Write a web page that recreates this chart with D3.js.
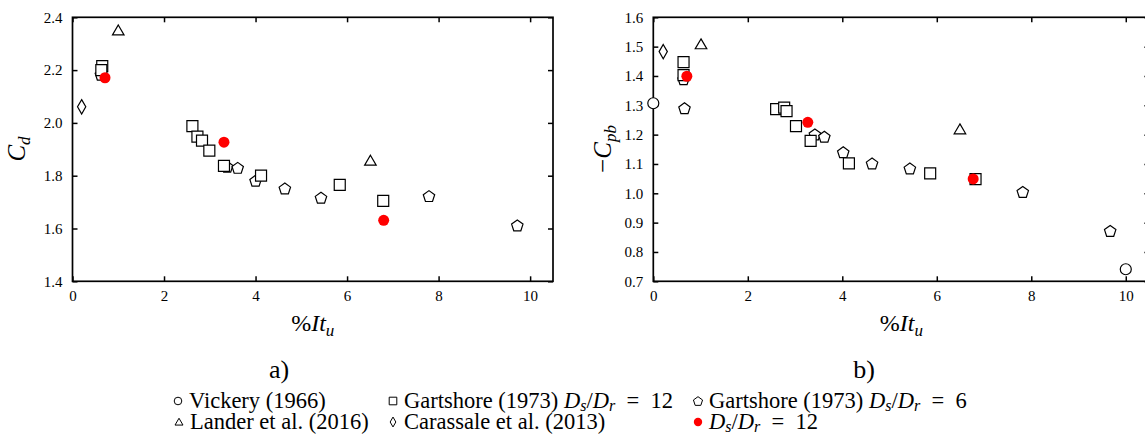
<!DOCTYPE html>
<html>
<head>
<meta charset="utf-8">
<script src="https://d3js.org/d3.v7.min.js"></script>
<style>
  body { margin: 0; background: #fff; }
  text { font-family: "Liberation Serif", "Times New Roman", serif; fill: #000; }
</style>
</head>
<body>
<svg width="1145" height="435"></svg>
<script>
// tick values
const xTicks = [0, 2, 4, 6, 8, 10];
const cdTicks = [1.4, 1.6, 1.8, 2.0, 2.2, 2.4];
const cpbTicks = [0.7, 0.8, 0.9, 1.0, 1.1, 1.2, 1.3, 1.4, 1.5, 1.6];

// drag coefficient Cd vs %It_u
const cdGart6 = [[0.62, 2.183], [3.38, 1.834], [3.61, 1.830], [4.0, 1.781], [4.64, 1.752], [5.43, 1.717], [7.79, 1.723], [9.72, 1.612]];
const cdGart12 = [[0.65, 2.215], [0.63, 2.200], [2.62, 1.988], [2.73, 1.948], [2.83, 1.933], [2.99, 1.895], [3.31, 1.837], [4.12, 1.800], [5.84, 1.765], [6.79, 1.705]];
const cdLander = [[1.0, 2.35], [6.51, 1.857]];
const cdCarassale = [[0.2, 2.061]];
const cdVickery = [];
const cdPresent = [[0.71, 2.171], [3.31, 1.927], [6.80, 1.631]];

// base pressure coefficient -Cpb vs %It_u
const cpbGart6 = [[0.64, 1.389], [0.66, 1.290], [3.42, 1.201], [3.62, 1.193], [4.02, 1.140], [4.63, 1.102], [5.43, 1.085], [7.82, 1.005], [9.67, 0.872]];
const cpbGart12 = [[0.64, 1.447], [0.64, 1.403], [2.60, 1.287], [2.77, 1.292], [2.82, 1.280], [3.02, 1.229], [3.33, 1.179], [4.14, 1.102], [5.86, 1.068], [6.82, 1.048]];
const cpbLander = [[1.01, 1.508], [6.49, 1.218]];
const cpbCarassale = [[0.21, 1.483]];
const cpbVickery = [[0.0, 1.307], [10.0, 0.741]];
const cpbPresent = [[0.71, 1.399], [3.27, 1.242], [6.77, 1.049]];

const svg = d3.select("svg");

// marker outlines, centred on 0,0
function shape(kind, r) {
  if (kind == "circle") { const p = d3.path(); p.arc(0, 0, r, 0, 2 * Math.PI); return p.toString(); }
  if (kind == "square") return `M${-r},${-r}H${r}V${r}H${-r}Z`;
  if (kind == "triangle") { const h = r * 1.8; return `M0,${-h * 0.55}L${r * 1.05},${h * 0.45}L${-r * 1.05},${h * 0.45}Z`; }
  if (kind == "diamond") return `M0,${-r * 1.3}L${r * 0.75},0L0,${r * 1.3}L${-r * 0.75},0Z`;
  if (kind == "pentagon") {
    const pts = d3.range(5).map(i => {
      const a = -Math.PI / 2 + i * 2 * Math.PI / 5;
      return [r * Math.cos(a), r * Math.sin(a) + r * 0.1];
    });
    return "M" + pts.join("L") + "Z";
  }
}

function drawPanel(opt) {
  const x = d3.scaleLinear().domain([0, 10.5]).range([opt.left, opt.right]);
  const y = d3.scaleLinear().domain(opt.yDomain).range([opt.bottom, opt.top]);
  const g = svg.append("g");

  // axes with inward ticks on all four sides
  g.append("g").attr("transform", `translate(0,${opt.bottom})`)
    .call(d3.axisBottom(x).tickValues(xTicks).tickFormat(d3.format("d")).tickSizeInner(-5).tickSizeOuter(0).tickPadding(9));
  g.append("g").attr("transform", `translate(${opt.left},0)`)
    .call(d3.axisLeft(y).tickValues(opt.yTicks).tickFormat(d3.format(".1f")).tickSizeInner(-5).tickSizeOuter(0).tickPadding(10));
  g.append("g").attr("transform", `translate(0,${opt.top})`)
    .call(d3.axisTop(x).tickValues(xTicks).tickFormat("").tickSizeInner(-5).tickSizeOuter(0));
  g.append("g").attr("transform", `translate(${opt.right},0)`)
    .call(d3.axisRight(y).tickValues(opt.yTicks).tickFormat("").tickSizeInner(-5).tickSizeOuter(0));
  g.selectAll(".domain").remove();
  g.selectAll(".tick line").attr("stroke", "#000").attr("stroke-width", 1.5);
  g.selectAll(".tick text").style("font-size", "15px").style("font-family", "Liberation Serif");
  g.append("rect")
    .attr("x", opt.left).attr("y", opt.top)
    .attr("width", opt.right - opt.left).attr("height", opt.bottom - opt.top)
    .attr("fill", "none").attr("stroke", "#000").attr("stroke-width", 1.7);

  // open markers
  const series = [
    ["circle", opt.vickery, 5.5],
    ["diamond", opt.carassale, 5.5],
    ["triangle", opt.lander, 5.5],
    ["pentagon", opt.gart6, 6],
    ["square", opt.gart12, 5.5]
  ];
  series.forEach(([kind, data, r]) => {
    g.append("g").selectAll("path").data(data).join("path")
      .attr("d", shape(kind, r))
      .attr("transform", d => `translate(${x(d[0])},${y(d[1])})`)
      .attr("fill", "#fff").attr("stroke", "#000").attr("stroke-width", 1.2);
  });
  g.append("g").selectAll("circle").data(opt.present).join("circle")
    .attr("cx", d => x(d[0])).attr("cy", d => y(d[1])).attr("r", 5.5)
    .attr("fill", "#f00");

  // x title %It_u
  const xt = g.append("text").attr("x", (opt.left + opt.right) / 2).attr("y", 331)
    .attr("text-anchor", "middle").style("font-size", "24px");
  xt.append("tspan").text("%");
  xt.append("tspan").style("font-style", "italic").text("It");
  xt.append("tspan").style("font-style", "italic").style("font-size", "17px").attr("dy", 5).text("u");

  // y title
  const yt = g.append("text")
    .attr("transform", `translate(${opt.yTitleX},149) rotate(-90)`)
    .attr("text-anchor", "middle").style("font-size", "25px");
  if (opt.minus) yt.append("tspan").text("\u2212");
  yt.append("tspan").style("font-style", "italic").text("C");
  yt.append("tspan").style("font-style", "italic").style("font-size", "17px").attr("dy", 5).text(opt.sub);

  g.append("text").attr("x", opt.tagX).attr("y", 378).attr("text-anchor", "middle")
    .style("font-size", "26px").text(opt.tag);
}

drawPanel({
  left: 72.5, right: 553, top: 17.3, bottom: 281.3,
  yDomain: [1.4, 2.4], yTicks: cdTicks, sub: "d", minus: false, yTitleX: 25, tag: "a)", tagX: 279,
  vickery: cdVickery, carassale: cdCarassale, lander: cdLander, gart6: cdGart6, gart12: cdGart12, present: cdPresent
});
drawPanel({
  left: 653.3, right: 1149.4, top: 17.3, bottom: 281.3,
  yDomain: [0.7, 1.6], yTicks: cpbTicks, sub: "pb", minus: true, yTitleX: 611, tag: "b)", tagX: 864,
  vickery: cpbVickery, carassale: cpbCarassale, lander: cpbLander, gart6: cpbGart6, gart12: cpbGart12, present: cpbPresent
});

// legend
const ratio = [["D", "i"], ["s", "s"], ["/"], ["D", "i"], ["r", "s"]];
const legend = [
  { kind: "circle", x: 178, y: 401, label: [["Vickery (1966)"]] },
  { kind: "square", x: 393, y: 401, label: [["Gartshore (1973) "], ...ratio, ["\u2002=\u200212"]] },
  { kind: "pentagon", x: 698, y: 401, label: [["Gartshore (1973) "], ...ratio, ["\u2002=\u20026"]] },
  { kind: "triangle", x: 179, y: 422, label: [["Lander et al. (2016)"]] },
  { kind: "diamond", x: 393, y: 422, label: [["Carassale et al. (2013)"]] },
  { kind: "dot", x: 698, y: 422, label: [...ratio, ["\u2002=\u200212"]] }
];
const lg = svg.append("g");
legend.forEach(it => {
  if (it.kind == "dot") {
    lg.append("circle").attr("cx", it.x).attr("cy", it.y).attr("r", 4.2).attr("fill", "#f00");
  } else {
    lg.append("path").attr("d", shape(it.kind, it.kind == "pentagon" ? 4.8 : 3.8))
      .attr("transform", `translate(${it.x},${it.y})`)
      .attr("fill", "none").attr("stroke", "#000").attr("stroke-width", 1);
  }
  const t = lg.append("text").attr("x", it.x + 11).attr("y", it.y + 7).style("font-size", "22.5px");
  let lowered = false;
  it.label.forEach(([s, st]) => {
    const ts = t.append("tspan").text(s);
    if (st == "i") ts.style("font-style", "italic");
    if (st == "s") { ts.style("font-style", "italic").style("font-size", "16px").attr("dy", lowered ? 0 : 3); lowered = true; }
    else if (lowered) { ts.attr("dy", -3); lowered = false; }
  });
});
</script>
</body>
</html>
